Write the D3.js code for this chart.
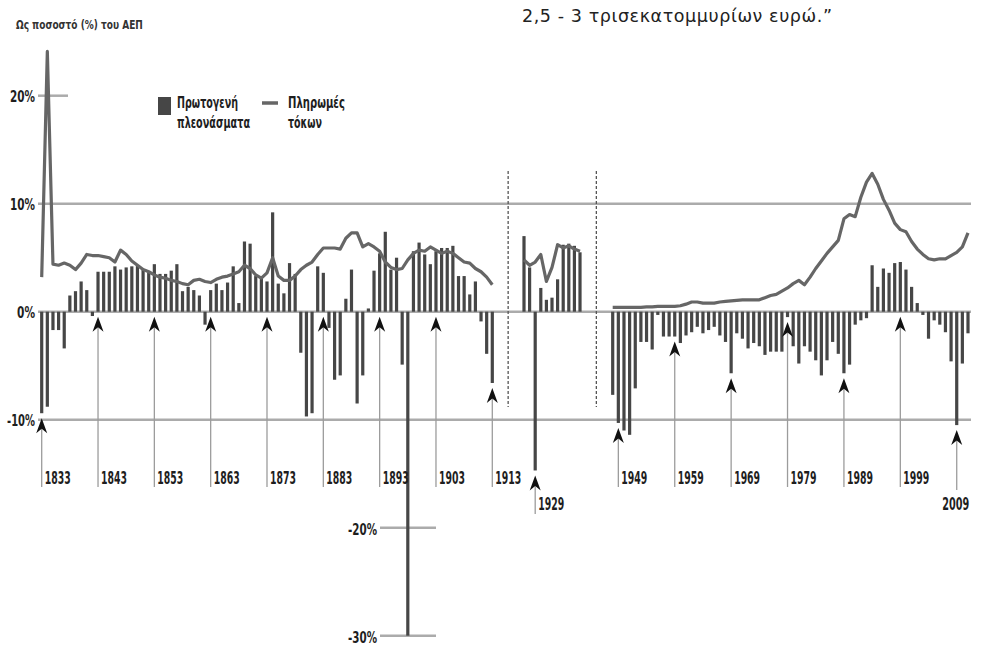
<!DOCTYPE html>
<html>
<head>
<meta charset="utf-8">
<script src="https://cdn.jsdelivr.net/npm/d3@7/dist/d3.min.js"></script>
<style>
  body { margin: 0; background: #fff; }
  svg { display: block; background: #fff; }
</style>
</head>
<body>
<svg id="chart"></svg>
<script>
// three stretches of years, the gaps between them are the war years
const periodA = [1833, 1913];
const surplusA = [
  -9.4, -8.8, -1.7, -1.7, -3.4, 1.5, 1.9, 2.8, 2.0, -0.4,
  3.7, 3.7, 3.7, 4.2, 3.9, 4.1, 4.2, 4.3, 3.9, 3.6,
  4.4, 3.5, 3.5, 3.8, 4.4, 1.9, 2.3, 2.0, 1.5, -1.2,
  2.0, 2.6, 2.0, 2.7, 4.2, 0.8, 6.5, 6.3, 3.3, 3.1,
  2.8, 9.2, 2.6, 1.7, 4.5, 3.5, -3.8, -9.7, -9.4, 4.2,
  3.6, -1.5, -6.3, -5.9, 1.2, 3.9, -8.5, -5.9, 0.3, 3.8,
  5.4, 7.4, 3.9, 5.0, -4.9, -30.0, 5.6, 6.4, 5.3, 4.4,
  5.6, 5.9, 5.9, 6.1, 3.3, 3.3, 1.6, 2.8, -0.9, -3.9,
  -6.6
];
const interestA = [
  3.2, 24.1, 4.4, 4.3, 4.5, 4.3, 3.9, 4.5, 5.3, 5.2,
  5.2, 5.1, 5.0, 4.6, 5.7, 5.3, 4.7, 4.3, 3.9, 3.7,
  3.4, 3.2, 3.1, 2.9, 2.8, 2.6, 2.5, 2.9, 3.0, 2.8,
  2.7, 3.0, 3.2, 3.3, 3.5, 3.7, 4.3, 4.0, 3.4, 3.1,
  3.6, 5.0, 3.3, 2.9, 2.9, 3.3, 3.9, 4.3, 4.6, 5.3,
  5.9, 5.9, 5.9, 5.8, 6.8, 7.3, 7.3, 6.0, 6.3, 6.0,
  5.6, 4.6, 4.1, 3.9, 4.0, 4.8, 5.4, 5.7, 5.6, 6.0,
  5.7, 5.4, 5.6, 5.4, 5.0, 4.6, 4.5, 4.0, 3.7, 3.2,
  2.5
];

const periodB = [1927, 1937];
const surplusB = [7.0, 4.1, -14.7, 2.2, 1.1, 1.3, 3.0, 6.2, 6.3, 6.1, 5.5];
const interestB = [4.8, 4.3, 4.6, 5.3, 2.8, 4.1, 6.2, 5.9, 6.1, 5.8, 5.6];

const periodC = [1948, 2011];
const surplusC = [
  -7.7, -10.3, -11.0, -11.4, -7.1, -2.8, -2.8, -3.5, -0.3, -2.3,
  -2.3, -2.3, -2.9, -2.2, -1.9, -1.4, -2.0, -1.7, -1.4, -2.2,
  -2.8, -5.7, -2.0, -2.5, -3.4, -2.9, -3.2, -4.0, -3.7, -3.7,
  -3.7, -0.5, -3.2, -4.8, -3.2, -3.7, -4.5, -5.9, -4.5, -2.8,
  -3.9, -5.7, -4.9, -1.2, -0.8, -0.6, 4.3, 2.3, 4.0, 3.6,
  4.5, 4.6, 3.9, 2.3, 0.8, -0.3, -2.5, -0.8, -1.2, -1.9,
  -4.6, -10.5, -4.8, -2.0
];
const interestC = [
  0.4, 0.4, 0.4, 0.4, 0.4, 0.4, 0.45, 0.45, 0.5, 0.5,
  0.5, 0.5, 0.55, 0.7, 0.9, 0.9, 0.8, 0.8, 0.8, 0.9,
  0.95, 1.0, 1.05, 1.1, 1.1, 1.1, 1.1, 1.3, 1.5, 1.6,
  1.9, 2.2, 2.6, 2.9, 2.5, 3.2, 4.0, 4.7, 5.4, 6.0,
  6.6, 8.6, 9.0, 8.8, 10.6, 12.0, 12.8, 11.8, 10.4, 9.4,
  8.2, 7.6, 7.4, 6.5, 5.8, 5.3, 4.9, 4.8, 4.9, 4.9,
  5.2, 5.5, 6.0, 7.3
];

const labelYears = [1833, 1843, 1853, 1863, 1873, 1883, 1893, 1903, 1913,
                    1929, 1949, 1959, 1969, 1979, 1989, 1999, 2009];
const lowLabelYears = [1929, 2009];

const fullTicks = [10, 0, -10];
const topTicks = [20];
const lowTicks = [-20, -30];

const subtitle = "Ως ποσοστό (%) του ΑΕΠ";
const quoteTail = "2,5 - 3 τρισεκατομμυρίων ευρώ.”";
const legendBars = ["Πρωτογενή", "πλεονάσματα"];
const legendLine = ["Πληρωμές", "τόκων"];

function toRows(period, surplus, interest) {
  return surplus.map((s, i) => ({ year: period[0] + i, surplus: s, interest: interest[i] }));
}

let segments = [
  toRows(periodA, surplusA, interestA),
  toRows(periodB, surplusB, interestB),
  toRows(periodC, surplusC, interestC)
];
let allRows = segments.flat();
let byYear = new Map(allRows.map(d => [d.year, d]));

let w = 981, h = 647;
let svg = d3.select("#chart")
            .attr("width", w)
            .attr("height", h);

// broken year axis: each stretch keeps the same width per year
let x = d3.scaleLinear()
          .domain([periodA[0], periodA[1], periodB[0], periodB[1], periodC[0], periodC[1]])
          .range([41.7, 492.3, 524, 580, 612.7, 968]);

let y = d3.scaleLinear()
          .domain([-30, 20])
          .range([635.7, 95.7]);

const font = '"DejaVu Sans", "Liberation Sans", sans-serif';
const barColor = "#464646";
const lineColor = "#666";
const gridColor = "#ababab";

// bold text narrowed to a given width (the source uses a condensed face)
function squeezed(g, str, px, py, size, len, anchor) {
  let t = g.append("text")
           .attr("text-anchor", anchor || "start")
           .style("font-family", font)
           .style("font-weight", "bold")
           .style("font-size", size + "px")
           .style("fill", "#1e1e1e")
           .text(str);
  let natural = t.node().getComputedTextLength();
  t.attr("transform", `translate(${px},${py}) scale(${(len / natural).toFixed(3)},1)`);
  return t;
}

// grid
let grid = svg.append("g");
grid.selectAll("line.full")
    .data(fullTicks)
    .enter()
    .append("line")
    .attr("x1", 38).attr("x2", 971)
    .attr("y1", d => y(d)).attr("y2", d => y(d))
    .attr("stroke", gridColor)
    .attr("stroke-width", 2.5);
grid.selectAll("line.top")
    .data(topTicks)
    .enter()
    .append("line")
    .attr("x1", 38).attr("x2", 68)
    .attr("y1", d => y(d)).attr("y2", d => y(d))
    .attr("stroke", gridColor)
    .attr("stroke-width", 2.5);
grid.selectAll("line.low")
    .data(lowTicks)
    .enter()
    .append("line")
    .attr("x1", 380).attr("x2", 436)
    .attr("y1", d => y(d)).attr("y2", d => y(d))
    .attr("stroke", gridColor)
    .attr("stroke-width", 2.5);

let tickLabel = d => (d < 0 ? "-" : "") + Math.abs(d) + "%";
let tickLen = d => d === 0 ? 18 : (d < 0 ? 28 : 25);
topTicks.concat(fullTicks).forEach(t => {
  squeezed(svg, tickLabel(t), 35, y(t) + 6, 16, tickLen(t), "end");
});
lowTicks.forEach(t => {
  squeezed(svg, tickLabel(t), 377, y(t) + 7, 16, 29, "end");
});

// separators between the stretches
let gaps = [
  (x(periodA[1]) + x(periodB[0])) / 2,
  (x(periodB[1]) + x(periodC[0])) / 2
];
svg.append("g")
   .selectAll("line")
   .data(gaps)
   .enter()
   .append("line")
   .attr("x1", d => d).attr("x2", d => d)
   .attr("y1", 171).attr("y2", 407)
   .attr("stroke", "#555")
   .attr("stroke-width", 1.3)
   .attr("stroke-dasharray", "3,2");

// primary balance bars
svg.append("g")
   .selectAll("rect")
   .data(allRows)
   .enter()
   .append("rect")
   .attr("x", d => x(d.year) - 1.6)
   .attr("width", 3.2)
   .attr("y", d => y(Math.max(0, d.surplus)))
   .attr("height", d => Math.abs(y(d.surplus) - y(0)))
   .attr("fill", barColor);

// interest payments line
let line = d3.line()
             .x(d => x(d.year))
             .y(d => y(d.interest));
svg.append("g")
   .selectAll("path")
   .data(segments)
   .enter()
   .append("path")
   .attr("d", line)
   .attr("fill", "none")
   .attr("stroke", lineColor)
   .attr("stroke-width", 3.2)
   .attr("stroke-linejoin", "round");

// year pointers
let pointers = svg.append("g");
labelYears.forEach(yr => {
  let d = byYear.get(yr);
  let px = x(yr);
  let tip = y(Math.min(0, d.surplus)) + 5;
  let low = lowLabelYears.includes(yr);
  let end = low ? (yr === 2009 ? 490 : 514) : 487;
  pointers.append("line")
          .attr("x1", px).attr("x2", px)
          .attr("y1", tip + 10).attr("y2", end)
          .attr("stroke", "#9c9c9c")
          .attr("stroke-width", 1.3);
  pointers.append("path")
          .attr("d", `M${px},${tip} L${px + 5.5},${tip + 15} L${px},${tip + 10.5} L${px - 5.5},${tip + 15} Z`)
          .attr("fill", "#111");
  if (yr === 2009) {
    squeezed(pointers, String(yr), px - 1, 510, 18, 27, "middle");
  } else {
    squeezed(pointers, String(yr), px + 3, low ? 510 : 484, 18, 26);
  }
});

// legend
let legend = svg.append("g");
legend.append("rect")
      .attr("x", 158).attr("y", 97)
      .attr("width", 13).attr("height", 18)
      .attr("fill", barColor);
squeezed(legend, legendBars[0], 177, 108, 15, 61);
squeezed(legend, legendBars[1], 177, 128, 15, 73);
legend.append("line")
      .attr("x1", 262).attr("x2", 278)
      .attr("y1", 103).attr("y2", 103)
      .attr("stroke", lineColor)
      .attr("stroke-width", 3.5);
squeezed(legend, legendLine[0], 288, 108, 15, 57);
squeezed(legend, legendLine[1], 288, 128, 15, 34);

// texts around the chart
squeezed(svg, subtitle, 16, 29, 13, 127).style("fill", "#333");

svg.append("text")
   .attr("x", 522)
   .attr("y", 22)
   .attr("textLength", 310)
   .attr("lengthAdjust", "spacing")
   .style("font-family", font)
   .style("font-size", "17.5px")
   .style("fill", "#222")
   .text(quoteTail);
</script>
</body>
</html>
